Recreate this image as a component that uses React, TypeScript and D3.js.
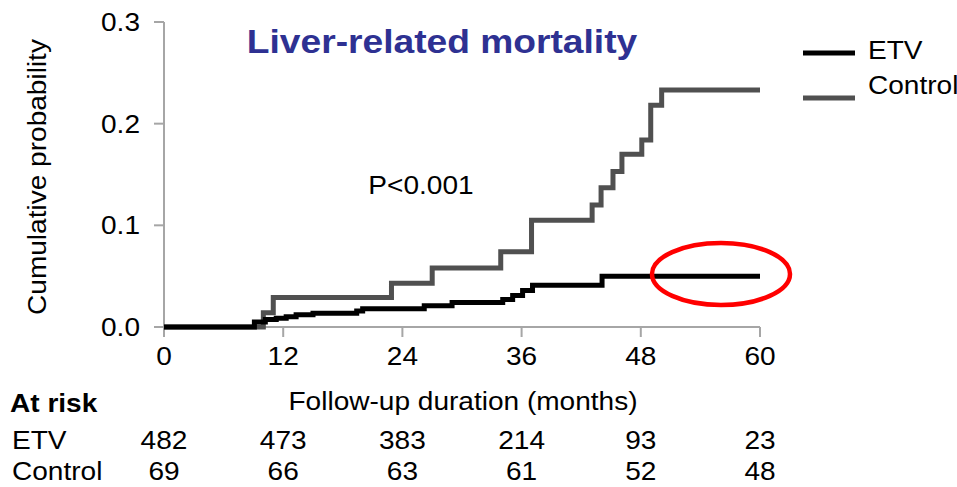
import React from "react";
import * as d3 from "d3";

const etvMonths = [0, 9.1, 10.2, 11.3, 12.3, 13.3, 15, 19.4, 20, 26.2, 29, 34.1, 35.1, 36.1, 37.1, 44.1, 60];
const etvValues = [0, 0.005, 0.0075, 0.0085, 0.01, 0.012, 0.0135, 0.0157, 0.018, 0.021, 0.024, 0.027, 0.031, 0.036, 0.041, 0.05, 0.05];
const ctlMonths = [0, 10, 11, 22.9, 27, 33.9, 37, 43.1, 44, 45.2, 46.1, 48.1, 49, 50.1, 60];
const ctlValues = [0, 0.014, 0.029, 0.043, 0.058, 0.074, 0.105, 0.12, 0.137, 0.153, 0.17, 0.184, 0.218, 0.233, 0.233];
const xTicks = [0, 12, 24, 36, 48, 60];
const yTicks = [0, 0.1, 0.2, 0.3];
const atRiskETV = [482, 473, 383, 214, 93, 23];
const atRiskControl = [69, 66, 63, 61, 52, 48];

const FONT = "Arial, 'Liberation Sans', sans-serif";
const FS = 25.5;
const SX = 1.1;

type TProps = {
  x: number;
  y: number;
  anchor?: "start" | "middle" | "end";
  size?: number;
  bold?: boolean;
  fill?: string;
  rotate?: number;
  children: React.ReactNode;
};

function T({ x, y, anchor = "start", size = FS, bold = false, fill = "#000", rotate = 0, children }: TProps) {
  return (
    <text
      transform={`translate(${x},${y}) rotate(${rotate}) scale(${SX},1)`}
      textAnchor={anchor}
      dy="0.35em"
      fontSize={size}
      fontWeight={bold ? "bold" : "normal"}
      fill={fill}
    >
      {children}
    </text>
  );
}

export default function App() {
  const x = d3.scaleLinear().domain([0, 60]).range([164, 760]);
  const y = d3.scaleLinear().domain([0, 0.3]).range([327, 22]);
  const line = d3
    .line<[number, number]>()
    .x((d) => x(d[0]))
    .y((d) => y(d[1]))
    .curve(d3.curveStepAfter);
  const etv = etvMonths.map((m, i) => [m, etvValues[i]] as [number, number]);
  const ctl = ctlMonths.map((m, i) => [m, ctlValues[i]] as [number, number]);
  const axisColor = "#a6a6a6";
  return (
    <svg width={957} height={487} style={{ position: "absolute", left: 0, top: 0 }} fontFamily={FONT}>
      <rect width={957} height={487} fill="#fff" />
      {/* axes */}
      <line x1={x(0)} x2={x(0)} y1={y(0.3)} y2={y(0)} stroke={axisColor} strokeWidth={2} />
      <line x1={x(0)} x2={x(60)} y1={y(0)} y2={y(0)} stroke={axisColor} strokeWidth={2} />
      {yTicks.map((t) => (
        <g key={t}>
          <line x1={x(0) - 10} x2={x(0)} y1={y(t)} y2={y(t)} stroke={axisColor} strokeWidth={2} />
          <T x={140} y={y(t)} anchor="end">{t.toFixed(1)}</T>
        </g>
      ))}
      {xTicks.map((t) => (
        <g key={t}>
          <line x1={x(t)} x2={x(t)} y1={y(0)} y2={y(0) + 10} stroke={axisColor} strokeWidth={2} />
          <T x={x(t)} y={356} anchor="middle">{t}</T>
        </g>
      ))}
      <T x={37} y={177} anchor="middle" rotate={-90}>Cumulative probability</T>
      {/* curves */}
      <path d={line(ctl) || ""} fill="none" stroke="#505050" strokeWidth={5} />
      <path d={line(etv) || ""} fill="none" stroke="#000" strokeWidth={5} />
      {/* title */}
      <T x={442} y={41} anchor="middle" size={33.8} bold fill="#2e3192">Liver-related mortality</T>
      <T x={421} y={185} anchor="middle">P&lt;0.001</T>
      {/* legend */}
      <line x1={803} x2={855} y1={53} y2={53} stroke="#000" strokeWidth={5} />
      <T x={868} y={50}>ETV</T>
      <line x1={803} x2={855} y1={98} y2={98} stroke="#505050" strokeWidth={5} />
      <T x={868} y={85}>Control</T>
      {/* red ellipse */}
      <ellipse cx={721} cy={274} rx={69} ry={31} fill="none" stroke="#ff0000" strokeWidth={4.5} />
      {/* x label & at risk */}
      <T x={463} y={401} anchor="middle">Follow-up duration (months)</T>
      <T x={10} y={403} bold>At risk</T>
      <T x={12} y={440}>ETV</T>
      <T x={12} y={471}>Control</T>
      {xTicks.map((t, i) => (
        <g key={"r" + t}>
          <T x={x(t)} y={440} anchor="middle">{atRiskETV[i]}</T>
          <T x={x(t)} y={471} anchor="middle">{atRiskControl[i]}</T>
        </g>
      ))}
    </svg>
  );
}
